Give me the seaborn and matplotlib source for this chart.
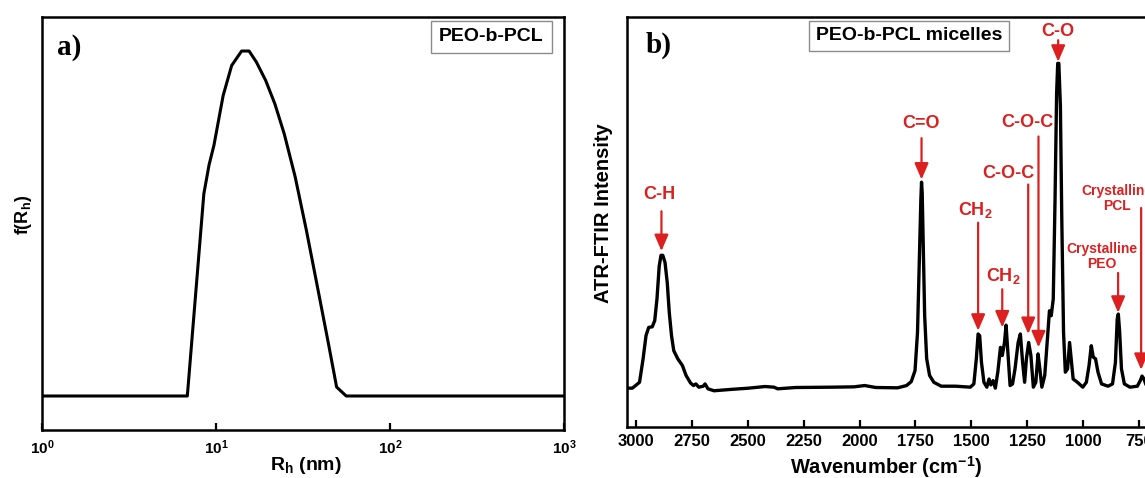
import matplotlib
matplotlib.use("Agg")
import matplotlib.pyplot as plt
import seaborn as sns
import numpy as np
import pandas as pd

# ---------------- data: panel a (DLS size distribution) ----------------
rh_nm = [1.0, 6.84, 8.51, 9.12, 9.73, 10.99, 12.30, 14.03, 15.49, 17.06, 19.28,
         21.78, 24.66, 28.51, 33.04, 38.28, 44.26, 49.32, 55.98, 1000.0]
f_rh = [0.0, 0.0, 0.586, 0.67, 0.727, 0.871, 0.958, 1.0, 1.0, 0.968, 0.915,
        0.847, 0.760, 0.635, 0.481, 0.316, 0.152, 0.026, 0.0, 0.0]

# ---------------- data: panel b (ATR-FTIR spectrum) ----------------
wavenumber = [3040, 3016, 2984, 2968, 2955, 2943, 2927, 2916, 2906, 2896, 2888, 2880,
              2870, 2860, 2851, 2841, 2831, 2813, 2792, 2776, 2756, 2743, 2732, 2719,
              2699, 2691, 2678, 2651, 2578, 2496, 2423, 2383, 2366, 2285, 2123, 2025,
              1977, 1928, 1830, 1790, 1769, 1752, 1741, 1733, 1726, 1723, 1720, 1715,
              1709, 1700, 1687, 1668, 1635, 1570, 1505, 1489, 1478, 1470, 1463, 1455,
              1444, 1431, 1421, 1413, 1403, 1393, 1382, 1370, 1362, 1352, 1345, 1337,
              1327, 1316, 1305, 1291, 1281, 1271, 1262, 1254, 1244, 1234, 1223, 1212,
              1202, 1194, 1185, 1172, 1160, 1151, 1143, 1134, 1126, 1119, 1114, 1109,
              1102, 1096, 1088, 1080, 1070, 1061, 1054, 1045, 1026, 1002, 986, 974,
              964, 955, 945, 934, 918, 889, 869, 856, 848, 843, 837, 829, 816, 791,
              758, 745, 737, 729, 718, 677, 600, 500]
intensity = [0.0, 0.0, 0.018, 0.090, 0.161, 0.186, 0.188, 0.207, 0.273, 0.374, 0.407, 0.407,
             0.385, 0.323, 0.232, 0.161, 0.115, 0.090, 0.069, 0.039, 0.016, 0.008, 0.013, 0.003,
             0.006, 0.013, -0.002, -0.008, -0.004, 0.0, 0.005, 0.003, -0.002, 0.002, 0.003, 0.004,
             0.008, 0.002, 0.001, 0.008, 0.020, 0.054, 0.171, 0.395, 0.578, 0.631, 0.598, 0.425,
             0.222, 0.090, 0.039, 0.018, 0.006, 0.006, 0.003, 0.013, 0.090, 0.166, 0.161, 0.079,
             0.018, 0.003, 0.028, 0.010, 0.023, 0.0, 0.049, 0.125, 0.100, 0.140, 0.193, 0.110,
             0.008, 0.013, 0.059, 0.140, 0.166, 0.079, 0.018, 0.090, 0.140, 0.100, 0.003, 0.018,
             0.105, 0.059, 0.003, 0.039, 0.151, 0.237, 0.222, 0.273, 0.578, 0.903, 0.995, 0.995,
             0.863, 0.527, 0.171, 0.049, 0.059, 0.140, 0.090, 0.028, 0.018, 0.003, 0.018, 0.069,
             0.130, 0.095, 0.090, 0.049, 0.013, 0.006, 0.013, 0.079, 0.212, 0.227, 0.171, 0.059,
             0.013, 0.003, 0.006, 0.023, 0.037, 0.029, 0.008, 0.003, 0.002, 0.0]

# peak annotations: label, text x, text y, arrow x, arrow start y, arrow end y
peak_labels = ["C-H", "C=O", r"CH$_\mathbf{2}$", r"CH$_\mathbf{2}$", "C-O-C", "C-O-C", "C-O",
               "Crystalline\nPEO", "Crystalline\nPCL"]
label_x = [2894, 1725, 1481, 1359, 1335, 1249, 1112, 916, 851]
label_y = [0.593, 0.812, 0.547, 0.344, 0.659, 0.814, 1.092, 0.403, 0.581]
arrow_x = [2886, 1723, 1470, 1362, 1246, 1200, 1112, 844, 741]
arrow_y0 = [0.542, 0.766, 0.507, 0.303, 0.624, 0.771, 1.066, 0.353, 0.552]
arrow_y1 = [0.420, 0.639, 0.176, 0.186, 0.166, 0.125, 1.000, 0.231, 0.056]
label_small = [False, False, False, False, False, False, False, True, True]

x_ticks_b = [3000, 2750, 2500, 2250, 2000, 1750, 1500, 1250, 1000, 750]
x_ticks_a = [1, 10, 100, 1000]
x_ticklabels_a = [r"$\mathbf{10^{0}}$", r"$\mathbf{10^{1}}$", r"$\mathbf{10^{2}}$", r"$\mathbf{10^{3}}$"]

# ---------------- style ----------------
sns.set_style("white")
plt.rcParams["font.family"] = ["Liberation Sans", "DejaVu Sans"]
plt.rcParams["mathtext.fontset"] = "custom"
plt.rcParams["mathtext.rm"] = "Liberation Sans"
plt.rcParams["mathtext.it"] = "Liberation Sans:italic"
plt.rcParams["mathtext.bf"] = "Liberation Sans:bold"
plt.rcParams["text.color"] = "black"
plt.rcParams["axes.labelcolor"] = "black"
plt.rcParams["xtick.color"] = "black"
plt.rcParams["ytick.color"] = "black"

RED = "#dc1f1f"
SPINE_LW = 1.8

fig = plt.figure(figsize=(11.45, 4.78), dpi=100)
ax1 = fig.add_axes([0.0367, 0.1004, 0.4559, 0.8640])
ax2 = fig.add_axes([0.5476, 0.1067, 0.4961, 0.8577])

# ---------------- panel a ----------------
df_a = pd.DataFrame({"Rh": rh_nm, "f": f_rh})
sns.lineplot(data=df_a, x="Rh", y="f", ax=ax1, color="black", lw=2.2,
             sort=False, estimator=None)
ax1.set_xscale("log")
ax1.set_xlim(1, 1000)
ax1.set_ylim(-0.0986, 1.0986)
ax1.set_xticks(x_ticks_a)
ax1.set_xticklabels(x_ticklabels_a)
ax1.minorticks_off()
ax1.set_yticks([])
ax1.tick_params(axis="x", bottom=True, direction="in", length=5, width=1.6, pad=6,
                labelsize=11, colors="black")
ax1.set_xlabel(r"R$_\mathbf{h}$ (nm)", fontsize=14, fontweight="bold")
ax1.set_ylabel(r"f(R$_\mathbf{h}$)", fontsize=13, fontweight="bold")
ax1.xaxis.label.set_va("center")
ax1.xaxis.set_label_coords(0.506, -0.085)
ax1.yaxis.label.set_va("center")
ax1.yaxis.set_label_coords(-0.036, 0.52)
ax1.text(0.052, 0.925, "a)", transform=ax1.transAxes, ha="center", va="center",
         fontsize=21, fontweight="bold", family="Liberation Serif", color="black")
ax1.text(0.861, 0.952, "PEO-b-PCL", transform=ax1.transAxes, ha="center", va="center",
         fontsize=14, fontweight="bold", color="black",
         bbox=dict(boxstyle="square,pad=0.4", fc="white", ec="#8c8c8c", lw=1.0))

# ---------------- panel b ----------------
df_b = pd.DataFrame({"wn": wavenumber, "I": intensity})
sns.lineplot(data=df_b, x="wn", y="I", ax=ax2, color="black", lw=2.4,
             sort=False, estimator=None)
ax2.set_xlim(3040, 500)
ax2.set_ylim(-0.119, 1.137)
ax2.set_xticks(x_ticks_b)
ax2.set_xticklabels([str(t) for t in x_ticks_b])
ax2.set_yticks([])
ax2.tick_params(axis="x", bottom=True, direction="in", length=5, width=1.6, pad=5,
                labelsize=12, colors="black")
for lab in ax2.get_xticklabels():
    lab.set_fontweight("bold")
ax2.set_xlabel(r"Wavenumber (cm$^\mathbf{-1}$)", fontsize=14.5, fontweight="bold")
ax2.set_ylabel("ATR-FTIR Intensity", fontsize=14.5, fontweight="bold")
ax2.xaxis.label.set_va("center")
ax2.xaxis.set_label_coords(0.456, -0.098)
ax2.yaxis.label.set_va("center")
ax2.yaxis.set_label_coords(-0.042, 0.522)
ax2.text(0.056, 0.932, "b)", transform=ax2.transAxes, ha="center", va="center",
         fontsize=21, fontweight="bold", family="Liberation Serif", color="black")
ax2.text(0.4965, 0.9537, "PEO-b-PCL micelles", transform=ax2.transAxes, ha="center",
         va="center", fontsize=14, fontweight="bold", color="black",
         bbox=dict(boxstyle="square,pad=0.35", fc="white", ec="#8c8c8c", lw=1.0))

for lab, tx, ty, axx, y0, y1, small in zip(peak_labels, label_x, label_y, arrow_x,
                                           arrow_y0, arrow_y1, label_small):
    ax2.text(tx, ty, lab, ha="center", va="center", color=RED, fontweight="bold",
             fontsize=10 if small else 13, linespacing=1.15, multialignment="center")
    ax2.annotate("", xy=(axx, y1), xytext=(axx, y0),
                 arrowprops=dict(arrowstyle="-|>,head_length=0.7,head_width=0.3",
                                 color=RED, lw=1.6, shrinkA=0, shrinkB=0,
                                 mutation_scale=14))

for ax in (ax1, ax2):
    for sp in ax.spines.values():
        sp.set_linewidth(SPINE_LW)
        sp.set_color("black")
    ax.set_facecolor("white")

fig.savefig("out.png", dpi=100, facecolor="white")
